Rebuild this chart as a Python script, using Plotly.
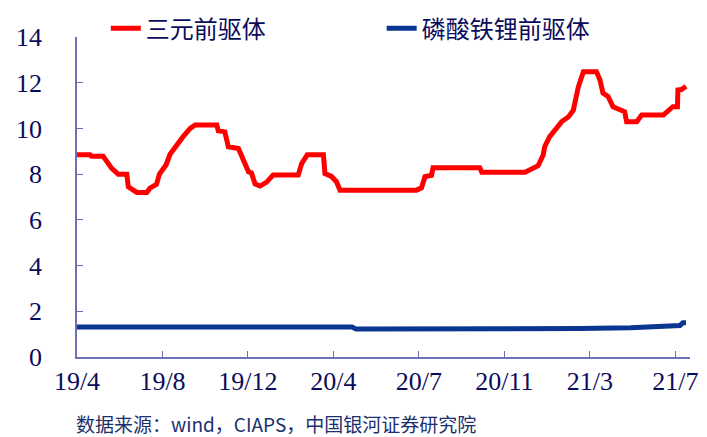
import plotly.graph_objects as go

# x positions are in week-like index units along a category style axis
tick_pos = [0, 17, 34, 51, 68, 85, 102, 119]
tick_text = ["19/4", "19/8", "19/12", "20/4", "20/7", "20/11", "21/3", "21/7"]

ternary_x = [0, 2.6, 2.9, 5.2, 6.9, 8.2, 9.9, 10.2, 11.9, 13.9, 14.5, 15.8, 16.4,
             17.7, 18.5, 19.7, 21.1, 22.5, 23.5, 27.8, 28.1, 29.4, 30.1, 32.1,
             33.1, 34.1, 34.7, 35.4, 36.4, 37.7, 39.0, 44.0, 44.7, 45.8, 49.0,
             49.3, 50.6, 51.6, 52.3, 67.5, 68.5, 69.2, 70.5, 70.8, 80.1, 80.5,
             89.1, 90.4, 91.7, 92.7, 93.0, 94.0, 95.0, 96.4, 97.7, 98.7, 99.7,
             100.7, 103.3, 104.0, 104.6, 105.6, 106.6, 107.6, 108.9, 109.3,
             111.3, 112.3, 116.6, 117.2, 118.5, 119.4, 119.5, 120.2, 121.1]
ternary_y = [8.85, 8.85, 8.78, 8.78, 8.25, 8.0, 8.0, 7.45, 7.2, 7.2, 7.39, 7.55, 8.0,
             8.4, 8.87, 9.27, 9.64, 10.0, 10.15, 10.15, 9.9, 9.85, 9.2, 9.12,
             8.62, 8.1, 8.05, 7.57, 7.48, 7.65, 7.96, 7.96, 8.47, 8.85, 8.85,
             8.03, 7.9, 7.67, 7.3, 7.3, 7.4, 7.89, 7.95, 8.28, 8.28, 8.08,
             8.08, 8.25, 8.37, 8.84, 9.2, 9.64, 9.93, 10.3, 10.5, 10.8, 11.82,
             12.48, 12.48, 12.12, 11.54, 11.4, 10.95, 10.85, 10.73, 10.29,
             10.29, 10.59, 10.59, 10.7, 10.95, 10.95, 11.68, 11.7, 11.85]

lfp_x = [0, 54.7, 55.5, 90.5, 100, 110.1, 116.5, 118.9, 119.9, 120.5, 121.1]
lfp_y = [1.31, 1.31, 1.22, 1.22, 1.25, 1.28, 1.33, 1.37, 1.38, 1.5, 1.5]

navy = "#0B0B5C"
axis_col = "#7070B8"

fig = go.Figure()
fig.add_trace(go.Scatter(x=ternary_x, y=ternary_y, mode="lines", name="三元前驱体",
                         line=dict(color="#FF0000", width=5), legend="legend"))
fig.add_trace(go.Scatter(x=lfp_x, y=lfp_y, mode="lines", name="磷酸铁锂前驱体",
                         line=dict(color="#0A3591", width=5), legend="legend2"))

leg = dict(orientation="h", y=1.026, xanchor="left", yanchor="middle",
           font=dict(size=24, color=navy), bgcolor="rgba(0,0,0,0)",
           itemwidth=30, tracegroupgap=0)

# the page body has an 8px margin, so the figure is a bit smaller than the window
fig.update_layout(
    width=699, height=429,
    margin=dict(l=69, r=17, t=29, b=80, autoexpand=False),
    paper_bgcolor="white", plot_bgcolor="white",
    font=dict(family="Noto Sans CJK SC", color=navy),
    legend=dict(leg, x=0.047),
    legend2=dict(leg, x=0.497),
    showlegend=True,
)
fig.update_xaxes(range=[0, 121.9], tickvals=tick_pos, ticktext=tick_text,
                 showgrid=False, zeroline=False, showline=True, linecolor=axis_col,
                 linewidth=1.5, ticks="inside", ticklen=6, tickcolor=axis_col,
                 tickfont=dict(family="Liberation Serif", size=26, color=navy))
fig.update_yaxes(range=[0, 14], dtick=2, showgrid=False, zeroline=False,
                 showline=True, linecolor=axis_col, linewidth=1.5,
                 ticks="inside", ticklen=6, tickcolor=axis_col, ticklabelstandoff=28,
                 tickfont=dict(family="Liberation Serif", size=26, color=navy))

fig.add_annotation(text="数据来源：wind，CIAPS，中国银河证券研究院", xref="paper", yref="paper",
                   x=-0.005, y=-0.208, xanchor="left", yanchor="middle", showarrow=False,
                   font=dict(family="Noto Sans CJK SC", size=19, color="#1A2F6E"))

fig.write_html("out.html")
